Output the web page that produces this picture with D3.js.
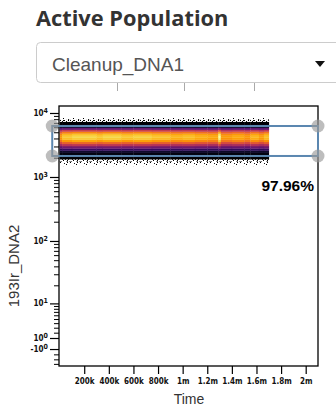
<!DOCTYPE html>
<html>
<head>
<meta charset="utf-8">
<script src="https://cdn.jsdelivr.net/npm/d3@7"></script>
<style>
  body { margin: 0; background: #fff; }
  svg { display: block; }
</style>
</head>
<body>
<svg id="chart" width="336" height="408"></svg>
<script>
// ---- data ----
const populationTitle = 'Active Population';
const populationName = 'Cleanup_DNA1';
const xLabel = 'Time';
const yLabel = '193Ir_DNA2';

const xDomain = [-5000, 2100000];
const yDomain = [-4.5, 12860];

const xTicks = [200000, 400000, 600000, 800000, 1000000, 1200000, 1400000, 1600000, 1800000, 2000000];
const xTickLabels = ['200k', '400k', '600k', '800k', '1m', '1.2m', '1.4m', '1.6m', '1.8m', '2m'];
const yMajor = [-1, 1, 10, 100, 1000, 10000];
const yMajorSign = ['-', '', '', '', '', ''];
const yMajorExp = ['0', '0', '1', '2', '3', '4'];

// DNA2 bin edges of the density band and the relative density in each bin
const dnaEdges = [1900, 2050, 2200, 2400, 2600, 2800, 3050, 3300, 3550, 3850, 4150, 4450,
                  4800, 5150, 5500, 5900, 6300, 6750, 7250];
const dnaDensity = [0.0, 0.0, 0.03, 0.08, 0.18, 0.32, 0.50, 0.66, 0.80, 0.88, 0.90, 0.86,
                    0.74, 0.55, 0.30, 0.10, 0.02, 0.0];

// sparse events around the band
const speckleEdges = [[1480, 1600], [1600, 1750], [1750, 1900], [7250, 7800], [7800, 8400]];
const speckleDensity = [0.3, 0.55, 0.85, 0.8, 0.3];

// time segments [start, end, relative intensity]
const timeSegments = [
  [0, 20000, 0.86], [20000, 100000, 0.97], [100000, 300000, 1.0], [300000, 350000, 0.97],
  [350000, 500000, 1.0], [500000, 600000, 0.97], [600000, 750000, 0.99], [750000, 900000, 0.96],
  [900000, 1000000, 0.93], [1000000, 1100000, 0.95], [1100000, 1200000, 0.92],
  [1200000, 1290000, 0.9], [1290000, 1310000, 1.1], [1310000, 1400000, 0.87],
  [1400000, 1500000, 0.9], [1500000, 1550000, 0.86], [1550000, 1620000, 0.93],
  [1620000, 1660000, 0.88], [1660000, 1700000, 0.95]
];

const gateX = [-60000, 2100000];
const gateY = [2130, 6260];
const gatePercent = '97.96%';

// ---- layout ----
const svg = d3.select('#chart');
const plot = {left: 59, right: 318, top: 106, bottom: 366};

// header + dropdown
svg.append('text')
  .attr('x', 36).attr('y', 26)
  .style('font-family', 'Open Sans, sans-serif')
  .style('font-weight', 'bold')
  .style('font-size', '21.8px')
  .style('fill', '#333')
  .text(populationTitle);

[117, 184, 254].forEach(x => {
  svg.append('line').attr('x1', x + 0.5).attr('x2', x + 0.5).attr('y1', 83).attr('y2', 91)
    .style('stroke', '#aaa');
});

svg.append('rect')
  .attr('x', 36.5).attr('y', 42.5).attr('width', 320).attr('height', 40)
  .attr('rx', 4)
  .style('fill', '#fff').style('stroke', '#ccc');

svg.append('text')
  .attr('x', 52).attr('y', 71)
  .style('font-family', 'Liberation Sans, Arial, sans-serif')
  .style('font-size', '19px')
  .style('fill', '#555')
  .text(populationName);

svg.append('path')
  .attr('d', 'M315,61 L325,61 L320,67 Z')
  .style('fill', '#111');

// ---- scales ----
const tf = v => Math.asinh(v / 5);
const x = d3.scaleLinear().domain(xDomain).range([plot.left, plot.right]);
const yT = d3.scaleLinear().domain(yDomain.map(tf)).range([plot.bottom, plot.top]);
const y = v => yT(tf(v));
const color = d3.scaleSequential(d3.interpolateInferno).domain([0, 1]);

// speckle patterns
const defs = svg.append('defs');
const patterns = [
  {id: 'sp1', dots: [[1, 0], [6, 2], [3, 4], [8, 5], [9, 1]]},
  {id: 'sp2', dots: [[0, 0], [4, 1], [7, 0], [2, 2], [9, 3], [5, 4], [1, 5], [7, 5], [6, 2]]},
  {id: 'sp3', dots: [[0, 0], [2, 1], [4, 0], [6, 1], [8, 0], [1, 2], [5, 3], [9, 2], [3, 4],
                     [7, 4], [0, 5], [6, 5], [2, 3], [8, 3], [4, 2], [9, 5], [3, 0]]}
];
patterns.forEach(p => {
  const pat = defs.append('pattern').attr('id', p.id)
    .attr('patternUnits', 'userSpaceOnUse').attr('width', 10).attr('height', 6);
  p.dots.forEach(d => pat.append('rect').attr('x', d[0]).attr('y', d[1])
    .attr('width', 1).attr('height', 1).style('fill', '#000'));
});
const speckleFill = dens => dens < 0.45 ? 'url(#sp1)' : dens < 0.7 ? 'url(#sp2)' : 'url(#sp3)';

// ---- density band ----
const band = svg.append('g');
const cells = [];
timeSegments.forEach(seg => {
  dnaDensity.forEach((d, i) => {
    cells.push({t0: seg[0], t1: seg[1], lo: dnaEdges[i], hi: dnaEdges[i + 1], v: Math.min(1, d * seg[2])});
  });
});

band.selectAll('rect.speck')
  .data(speckleEdges)
  .enter().append('rect')
  .attr('class', 'speck')
  .attr('x', x(timeSegments[0][0]))
  .attr('width', x(timeSegments[timeSegments.length - 1][1]) - x(timeSegments[0][0]))
  .attr('y', d => y(d[1]))
  .attr('height', d => y(d[0]) - y(d[1]))
  .style('fill', (d, i) => speckleFill(speckleDensity[i]));

band.selectAll('rect.cell')
  .data(cells)
  .enter().append('rect')
  .attr('class', 'cell')
  .attr('x', d => x(d.t0))
  .attr('width', d => x(d.t1) - x(d.t0) + 0.3)
  .attr('y', d => y(d.hi))
  .attr('height', d => y(d.lo) - y(d.hi) + 0.3)
  .style('fill', d => color(d.v));

// ---- axes ----
const axisFont = 'Liberation Sans Narrow, DejaVu Sans Condensed, Arial Narrow, sans-serif';

const xAxis = svg.append('g')
  .attr('transform', `translate(0,${plot.bottom})`)
  .call(d3.axisBottom(x).tickValues(xTicks).tickSize(8).tickPadding(4)
    .tickFormat((d, i) => xTickLabels[i]));
xAxis.select('.domain').remove();
xAxis.selectAll('text')
  .style('font-family', axisFont).style('font-weight', 'bold').style('font-size', '8px')
  .style('fill', '#111');
xAxis.selectAll('line').style('stroke', '#000').style('stroke-width', 1.2);

const yMinor = [-4, -3, -2]
  .concat(d3.range(2, 10))
  .concat(d3.range(2, 10).map(v => v * 10))
  .concat(d3.range(2, 10).map(v => v * 100))
  .concat(d3.range(2, 10).map(v => v * 1000));

const yMinorAxis = svg.append('g')
  .attr('transform', `translate(${plot.left},0)`)
  .call(d3.axisLeft(yT).tickValues(yMinor.map(tf)).tickSize(5).tickFormat(''));
yMinorAxis.select('.domain').remove();
yMinorAxis.selectAll('line').style('stroke', '#000').style('stroke-width', 1);

const yAxis = svg.append('g')
  .attr('transform', `translate(${plot.left},0)`)
  .call(d3.axisLeft(yT).tickValues(yMajor.map(tf)).tickSize(9).tickPadding(2).tickFormat(''));
yAxis.select('.domain').remove();
yAxis.selectAll('line').style('stroke', '#000').style('stroke-width', 1.2);
yAxis.selectAll('text')
  .style('font-family', axisFont).style('font-weight', 'bold').style('font-size', '8px')
  .style('fill', '#111')
  .each(function (d, i) {
    const t = d3.select(this);
    t.append('tspan').text(yMajorSign[i] + '10');
    t.append('tspan').attr('dy', '-0.5em').style('font-size', '7px').text(yMajorExp[i]);
  });

// frame
svg.append('rect')
  .attr('x', plot.left).attr('y', plot.top)
  .attr('width', plot.right - plot.left).attr('height', plot.bottom - plot.top)
  .style('fill', 'none').style('stroke', '#000').style('stroke-width', 1.3);

// axis titles
svg.append('text')
  .attr('x', (plot.left + plot.right) / 2 + 0.5).attr('y', 404)
  .attr('text-anchor', 'middle')
  .style('font-family', 'Liberation Sans, Arial, sans-serif')
  .style('font-size', '14px').style('fill', '#333')
  .text(xLabel);

svg.append('text')
  .attr('transform', `translate(19,${(plot.top + plot.bottom) / 2 + 30}) rotate(-90)`)
  .attr('text-anchor', 'middle')
  .style('font-family', 'Liberation Sans, Arial, sans-serif')
  .style('font-size', '15px').style('fill', '#333')
  .text(yLabel);

// ---- gate ----
const gate = svg.append('g');
gate.append('rect')
  .attr('x', x(gateX[0])).attr('y', y(gateY[1]))
  .attr('width', x(gateX[1]) - x(gateX[0])).attr('height', y(gateY[0]) - y(gateY[1]))
  .style('fill', 'none').style('stroke', '#5b87b0').style('stroke-width', 2);

const corners = [[gateX[0], gateY[1]], [gateX[0], gateY[0]], [gateX[1], gateY[1]], [gateX[1], gateY[0]]];
gate.selectAll('circle')
  .data(corners)
  .enter().append('circle')
  .attr('cx', d => x(d[0])).attr('cy', d => y(d[1]))
  .attr('r', 6.5)
  .style('fill', '#999').style('opacity', 0.65);

gate.append('text')
  .attr('x', x(gateX[1]) - 4).attr('y', y(gateY[0]) + 35)
  .attr('text-anchor', 'end')
  .style('font-family', 'Liberation Sans, Arial, sans-serif')
  .style('font-weight', 'bold').style('font-size', '15.5px').style('fill', '#000')
  .text(gatePercent);
</script>
</body>
</html>
